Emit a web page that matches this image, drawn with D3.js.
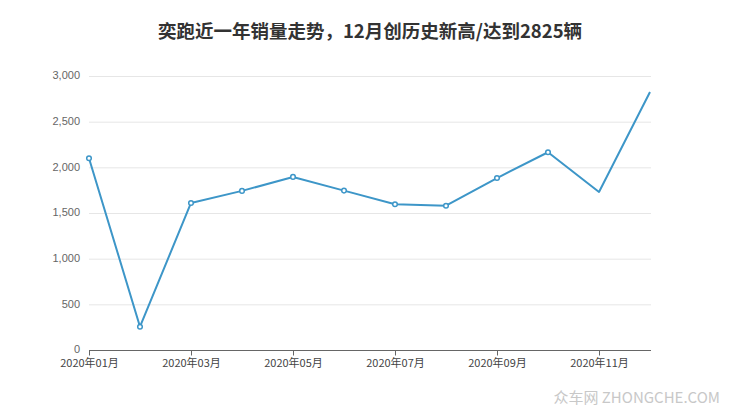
<!DOCTYPE html>
<html><head><meta charset="utf-8">
<script src="https://cdn.jsdelivr.net/npm/d3@7"></script>
<style>body{margin:0;background:#fff;}svg{display:block;}</style>
</head><body>
<svg id="c" width="740" height="417"></svg>
<script>
const months = ["2020年01月","2020年02月","2020年03月","2020年04月","2020年05月","2020年06月","2020年07月","2020年08月","2020年09月","2020年10月","2020年11月","2020年12月"];
const sales = [2100, 255, 1610, 1742, 1895, 1745, 1596, 1580, 1883, 2165, 1730, 2825];
const markerShown = [1,1,1,1,1,1,1,1,1,1,0,0];
const yTicks = [0, 500, 1000, 1500, 2000, 2500, 3000];
const titleText = "奕跑近一年销量走势，12月创历史新高/达到2825辆";

(function(){
const svg = d3.select("#c");
const font = "'Liberation Sans', Arial, 'Noto Sans CJK SC', sans-serif";
const mLeft = 89, mRight = 651, mTop = 76, mBottom = 350;
const x = d3.scalePoint().domain(months).range([mLeft, mRight - 1]);
const y = d3.scaleLinear().domain([0, 3000]).range([mBottom, mTop]);

svg.append("text").attr("x", 370).attr("y", 38).attr("text-anchor", "middle")
  .attr("font-family", "'Noto Sans CJK SC', sans-serif").attr("font-weight", "bold")
  .attr("font-size", 18.5).attr("fill", "#333").text(titleText);

svg.append("g").selectAll("line").data(yTicks.filter(d => d > 0)).join("line")
  .attr("x1", mLeft).attr("x2", mRight).attr("y1", d => y(d) + 0.5).attr("y2", d => y(d) + 0.5)
  .attr("stroke", "#e6e6e6").attr("stroke-width", 1);

const yAxis = d3.axisLeft(y).tickValues(yTicks).tickSize(0).tickPadding(9).tickFormat(d3.format(","));
const gy = svg.append("g").attr("transform", `translate(${mLeft},0)`).call(yAxis);
gy.select(".domain").remove();
gy.selectAll("text").attr("font-family", font).attr("font-size", 11).attr("fill", "#666").attr("dy", "0.25em");

const labelled = months.filter((d, i) => i % 2 === 0);
const xAxis = d3.axisBottom(x).tickValues(labelled).tickSize(5).tickPadding(4).tickSizeOuter(0);
const gx = svg.append("g").attr("transform", `translate(0,${mBottom + 0.5})`).call(xAxis);
gx.select(".domain").attr("d", `M${mLeft},0H${mRight}`).attr("stroke", "#666");
gx.selectAll(".tick line").attr("stroke", "#666");
gx.selectAll("text").attr("font-family", "'Noto Sans CJK SC', sans-serif").attr("font-size", 11).attr("fill", "#444");

const line = d3.line().x((d, i) => x(months[i])).y(d => y(d));
svg.append("path").datum(sales).attr("d", line).attr("fill", "none")
  .attr("stroke", "#3d96c8").attr("stroke-width", 2).attr("stroke-linejoin", "round");

svg.append("g").selectAll("circle").data(sales.map((v, i) => ({v, i})).filter(d => markerShown[d.i]))
  .join("circle").attr("cx", d => x(months[d.i])).attr("cy", d => y(d.v)).attr("r", 2.3)
  .attr("fill", "#fff").attr("stroke", "#3d96c8").attr("stroke-width", 1.5);

svg.append("text").attr("x", 720).attr("y", 403).attr("text-anchor", "end")
  .attr("font-family", "'Noto Sans CJK SC', sans-serif").attr("font-size", 15)
  .attr("fill", "#c8c8c8").text("众车网 ZHONGCHE.COM");
})();
</script>
</body></html>
